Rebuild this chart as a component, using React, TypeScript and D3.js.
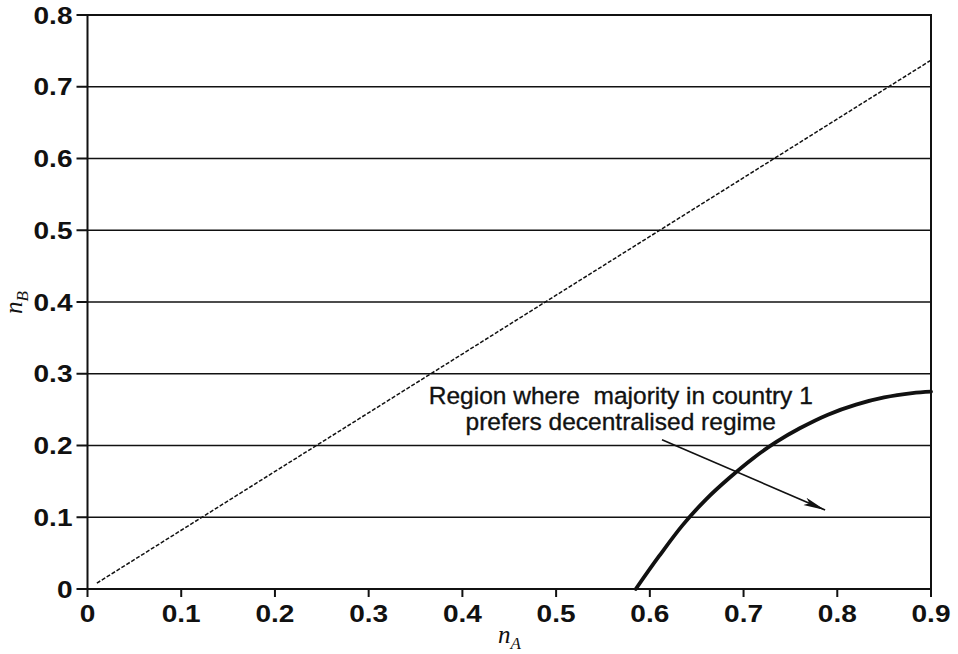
import React from "react";
import * as d3 from "d3";

const xTicks = [0, 0.1, 0.2, 0.3, 0.4, 0.5, 0.6, 0.7, 0.8, 0.9];
const yTicks = [0, 0.1, 0.2, 0.3, 0.4, 0.5, 0.6, 0.7, 0.8];

// dashed diagonal line
const diagNA = [0.01, 0.9];
const diagNB = [0.0082, 0.737];

// thick boundary curve
const curveNA = [0.585, 0.61, 0.635, 0.66, 0.685, 0.71, 0.735, 0.76, 0.79, 0.82, 0.85, 0.88, 0.9];
const curveNB = [0, 0.046, 0.089, 0.125, 0.155, 0.182, 0.205, 0.224, 0.243, 0.257, 0.267, 0.273, 0.275];

// annotation
const noteLines = ["Region where  majority in country 1", "prefers decentralised regime"];
const noteAt = [0.569, 0.258];
const arrowStart = [0.613, 0.208];
const arrowEnd = [0.787, 0.11];

const W = 958;
const H = 654;
const L = 87.5, R = 931, T = 15, B = 589;

export default function App() {
  const x = d3.scaleLinear().domain([0, 0.9]).range([L, R]);
  const y = d3.scaleLinear().domain([0, 0.8]).range([B, T]);
  const fmt = d3.format("~g");

  const line = d3.line<[number, number]>().x((d) => x(d[0])).y((d) => y(d[1]));
  const curveLine = d3
    .line<[number, number]>()
    .x((d) => x(d[0]))
    .y((d) => y(d[1]))
    .curve(d3.curveCatmullRom.alpha(0.5));

  const diagPts: [number, number][] = diagNA.map((v, i) => [v, diagNB[i]]);
  const curvePts: [number, number][] = curveNA.map((v, i) => [v, curveNB[i]]);

  const ink = "#111";
  const sx = 1.22;

  return (
    <svg
      width={W}
      height={H}
      style={{ position: "absolute", left: 0, top: 0, background: "#fff" }}
    >
      <defs>
        <marker
          id="ah"
          markerUnits="userSpaceOnUse"
          markerWidth={24}
          markerHeight={10}
          refX={22}
          refY={4}
          orient="auto"
        >
          <path d="M0,0 L22,4 L0,8 L5,4 Z" fill={ink} />
        </marker>
      </defs>

      {/* gridlines */}
      {yTicks.slice(1, -1).map((t) => (
        <line key={"g" + t} x1={L} x2={R} y1={y(t)} y2={y(t)} stroke={ink} strokeWidth={1.5} />
      ))}

      {/* frame */}
      <rect x={L} y={T} width={R - L} height={B - T} fill="none" stroke={ink} strokeWidth={2} />

      {/* y ticks */}
      {yTicks.map((t) => (
        <g key={"y" + t}>
          <line x1={L - 11} x2={L} y1={y(t)} y2={y(t)} stroke={ink} strokeWidth={2} />
          <text
            transform={`translate(${L - 15},${y(t) + 8.5}) scale(${sx},1)`}
            textAnchor="end"
            fontFamily="Liberation Sans, Arial, sans-serif"
            fontWeight="bold"
            fontSize={23}
            fill={ink}
          >
            {fmt(t)}
          </text>
        </g>
      ))}

      {/* x ticks */}
      {xTicks.map((t) => (
        <g key={"x" + t}>
          <line x1={x(t)} x2={x(t)} y1={B} y2={B + 8} stroke={ink} strokeWidth={2} />
          <text
            transform={`translate(${x(t)},${B + 33}) scale(${sx},1)`}
            textAnchor="middle"
            fontFamily="Liberation Sans, Arial, sans-serif"
            fontWeight="bold"
            fontSize={23}
            fill={ink}
          >
            {fmt(t)}
          </text>
        </g>
      ))}

      {/* dashed diagonal */}
      <path d={line(diagPts) || ""} fill="none" stroke={ink} strokeWidth={1.5} strokeDasharray="4,1.8" />

      {/* thick curve */}
      <path d={curveLine(curvePts) || ""} fill="none" stroke={ink} strokeWidth={3.8} strokeLinecap="round" />

      {/* annotation */}
      {noteLines.map((s, i) => (
        <text
          key={"n" + i}
          x={x(noteAt[0])}
          y={y(noteAt[1]) + i * 26}
          textAnchor="middle"
          fontFamily="Liberation Sans, Arial, sans-serif"
          fontSize={24.5}
          fill={ink}
          stroke={ink}
          strokeWidth={0.35}
          style={{ whiteSpace: "pre" }}
        >
          {s}
        </text>
      ))}
      <line
        x1={x(arrowStart[0])}
        y1={y(arrowStart[1])}
        x2={x(arrowEnd[0])}
        y2={y(arrowEnd[1])}
        stroke={ink}
        strokeWidth={1.6}
        markerEnd="url(#ah)"
      />

      {/* axis titles */}
      <text
        x={498}
        y={643}
        fontFamily="Liberation Serif, Times New Roman, serif"
        fontStyle="italic"
        fontSize={25}
        fill={ink}
      >
        n
        <tspan fontSize={17} dy={6}>
          A
        </tspan>
      </text>
      <text
        transform="translate(22,314) rotate(-90)"
        fontFamily="Liberation Serif, Times New Roman, serif"
        fontStyle="italic"
        fontSize={25}
        fill={ink}
      >
        n
        <tspan fontSize={17} dy={6}>
          B
        </tspan>
      </text>
    </svg>
  );
}
